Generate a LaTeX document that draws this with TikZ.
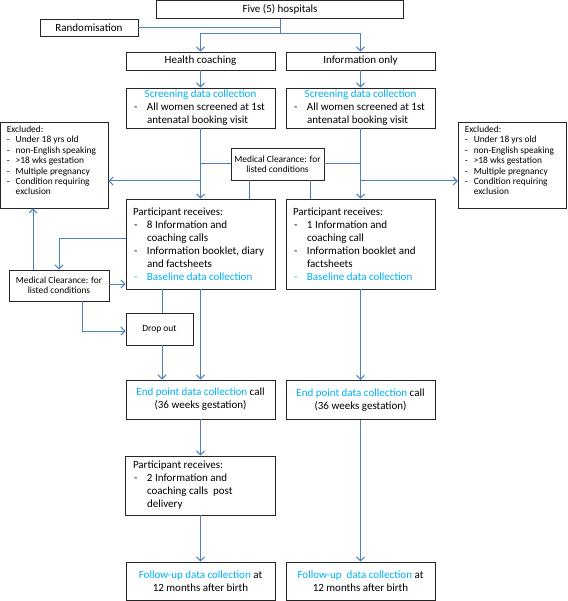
\documentclass[tikz,border=0pt]{standalone}
\usepackage{fontspec}
\setmainfont{Carlito}
\usetikzlibrary{arrows.meta}
\definecolor{lnblue}{HTML}{4F81BD}
\definecolor{cy}{HTML}{00B0F0}
\newcommand\myL[2][135pt]{\makebox[#1][l]{#2}}
\newcommand\myC[2][135pt]{\makebox[#1][c]{#2}}
\newcommand\myD[1]{\makebox[14pt][l]{\hspace{1pt}-}#1}
\newcommand\myI[1]{\hspace*{14pt}#1}
\newcommand\sD[1]{\makebox[9pt][l]{-}#1}
\newcommand\sI[1]{\hspace*{9pt}#1}
\tikzset{
  box/.style={draw=black!85, line width=0.75pt, inner sep=0pt, align=left, font=\fontsize{11}{13}\selectfont},
  smalltext/.style={font=\fontsize{9.4}{10.4}\selectfont},
  conn/.style={draw=lnblue, line width=1pt},
  arr/.style={conn, -{Straight Barb[length=4pt,width=8pt]}}
}
\begin{document}
\begin{tikzpicture}[x=1pt,y=-1pt]
\useasboundingbox (0,0) rectangle (567,601);
% nodes
\node[box,minimum width=247pt,minimum height=18pt] (hosp) at (280,9.3) {Five (5) hospitals};
\node[box,minimum width=98pt,minimum height=17pt] (rand) at (89,27.5) {Randomisation};
\node[box,minimum width=149pt,minimum height=18pt] (hc) at (200.5,61) {Health coaching};
\node[box,minimum width=149pt,minimum height=18pt] (io) at (360.5,61) {Information only};
\node[box,minimum width=149pt,minimum height=40pt] (scrL) at (200.5,108)
  {\myC{\textcolor{cy}{Screening data collection}}\\ \myL{\myD{All women screened at 1st}}\\ \myL{\myI{antenatal booking visit}}};
\node[box,minimum width=149pt,minimum height=40pt] (scrR) at (360.5,108)
  {\myC{\textcolor{cy}{Screening data collection}}\\ \myL{\myD{All women screened at 1st}}\\ \myL{\myI{antenatal booking visit}}};
\node[box,smalltext,minimum width=107.5pt,minimum height=86pt] (exL) at (54.25,165)
  {\myL[95pt]{Excluded:}\\ \myL[95pt]{\sD{Under 18 yrs old}}\\ \myL[95pt]{\sD{non-English speaking}}\\ \myL[95pt]{\sD{>18 wks gestation}}\\ \myL[95pt]{\sD{Multiple pregnancy}}\\ \myL[95pt]{\sD{Condition requiring}}\\ \myL[95pt]{\sI{exclusion}\rule[-9pt]{0pt}{9pt}}};
\node[box,smalltext,minimum width=108pt,minimum height=86pt] (exR) at (512.25,165)
  {\myL[95pt]{Excluded:}\\ \myL[95pt]{\sD{Under 18 yrs old}}\\ \myL[95pt]{\sD{non-English speaking}}\\ \myL[95pt]{\sD{>18 wks gestation}}\\ \myL[95pt]{\sD{Multiple pregnancy}}\\ \myL[95pt]{\sD{Condition requiring}}\\ \myL[95pt]{\sI{exclusion}\rule[-9pt]{0pt}{9pt}}};
\node[box,smalltext,align=center,minimum width=93pt,minimum height=32pt] (medT) at (277.5,164)
  {Medical Clearance: for\\listed conditions};
\node[box,minimum width=149pt,minimum height=90pt] (parL) at (200.5,244)
  {\myL{Participant receives:}\\ \myL{\myD{8 Information and}}\\ \myL{\myI{coaching calls}}\\ \myL{\myD{Information booklet, diary}}\\ \myL{\myI{and factsheets}}\\ \myL{\textcolor{cy}{\myD{Baseline data collection}}}};
\node[box,minimum width=149pt,minimum height=90pt] (parR) at (360.5,244)
  {\myL{Participant receives:}\\ \myL{\myD{1 Information and}}\\ \myL{\myI{coaching call}}\\ \myL{\myD{Information booklet and}}\\ \myL{\myI{factsheets}}\\ \myL{\textcolor{cy}{\myD{Baseline data collection}}}};
\node[box,smalltext,align=center,minimum width=100pt,minimum height=31pt] (medL) at (59,285.5)
  {Medical Clearance: for\\listed conditions};
\node[box,font=\fontsize{9.5}{11}\selectfont,minimum width=67pt,minimum height=32pt] (drop) at (159.5,329) {Drop out};
\node[box,align=center,minimum width=149pt,minimum height=39pt] (endL) at (200.5,399.5)
  {\textcolor{cy}{End point data collection} call\\(36 weeks gestation)};
\node[box,align=center,minimum width=149pt,minimum height=39pt] (endR) at (360.5,400)
  {\textcolor{cy}{End point data collection} call\\(36 weeks gestation)};
\node[box,minimum width=150pt,minimum height=59pt] (par2) at (200.5,485.5)
  {\myL{Participant receives:}\\ \myL{\myD{2 Information and}}\\ \myL{\myI{coaching calls\ \ post}}\\ \myL{\myI{delivery}}};
\node[box,align=center,minimum width=149pt,minimum height=38pt] (fuL) at (200.5,581)
  {\textcolor{cy}{Follow-up data collection} at\\12 months after birth};
\node[box,align=center,minimum width=149pt,minimum height=38pt] (fuR) at (360.5,581)
  {\textcolor{cy}{Follow-up\ \ data collection} at\\12 months after birth};
% connectors
\coordinate (j) at (280,34);
\coordinate (yl) at (0,181);
\draw[conn] (hosp.south) -- (j);
\draw[conn] (rand.east) -- (rand.east -| j);
\draw[arr] (j) -| (hc.north);
\draw[arr] (j) -| (io.north);
\draw[arr] (hc.south) -- (scrL.north);
\draw[arr] (io.south) -- (scrR.north);
\draw[arr] (scrL.south) -- (parL.north);
\draw[arr] (scrR.south) -- (parR.north);
\draw[conn] (medT.west) -- (medT.west -| scrL.south);
\draw[conn] (medT.east) -- (medT.east -| scrR.south);
\draw[arr] (scrL.south |- yl) -- (exL.east |- yl);
\draw[arr] (scrR.south |- yl) -- (exR.west |- yl);
\draw[conn] ([xshift=-28.5pt]medT.south) -- ([xshift=-28.5pt]medT.south |- parL.north);
\draw[conn] ([xshift=32.5pt]medT.south) -- ([xshift=32.5pt]medT.south |- parR.north);
\draw[arr] ([yshift=5pt]parL.west) -| (medL.north);
\draw[arr] ([xshift=-26pt]medL.north) -- ([xshift=-26pt]medL.north |- exL.south);
\draw[arr] ([yshift=1.5pt]medL.east) -- ([yshift=1.5pt]medL.east -| parL.west);
\draw[arr] ([xshift=23pt]medL.south) |- ([yshift=-2pt]drop.west);
\draw[conn] ([xshift=2.5pt]drop.north |- parL.south) -- ([xshift=2.5pt]drop.north);
\draw[arr] ([xshift=2.5pt]drop.south) -- ([xshift=2.5pt]drop.south |- endL.north);
\draw[arr] (parL.south) -- (endL.north);
\draw[arr] (endL.south) -- (par2.north);
\draw[arr] (par2.south) -- (fuL.north);
\draw[arr] (parR.south) -- (endR.north);
\draw[arr] (endR.south) -- (fuR.north);
\end{tikzpicture}
\end{document}
